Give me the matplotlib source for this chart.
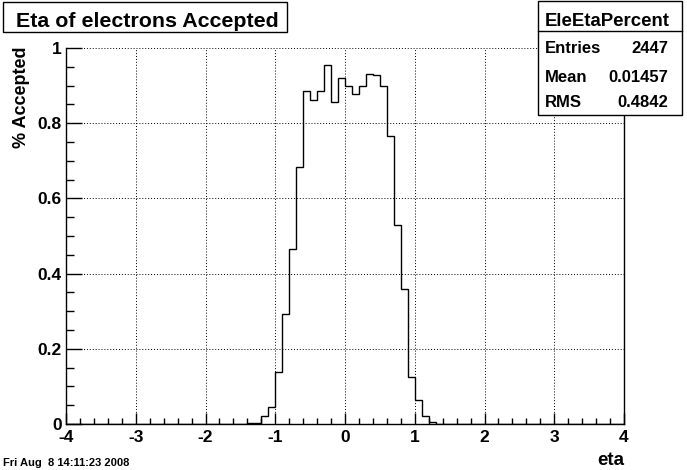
import matplotlib
matplotlib.use('Agg')
import matplotlib.pyplot as plt
from matplotlib.patches import Rectangle
from matplotlib.lines import Line2D
from matplotlib.ticker import MultipleLocator
import numpy as np

plt.rcParams['font.family'] = ['Liberation Sans', 'DejaVu Sans']
plt.rcParams['font.weight'] = 'bold'

# histogram: 80 bins of 0.1 in eta from -4 to 4
eta_lo, eta_hi, nbins = -4.0, 4.0, 80
first_filled_bin = 26   # bin starting at eta = -1.4
accepted = [0.003, 0.003, 0.020, 0.045, 0.137, 0.292, 0.465, 0.683, 0.885, 0.861,
            0.885, 0.954, 0.856, 0.919, 0.899, 0.878, 0.899, 0.930, 0.928, 0.899,
            0.766, 0.529, 0.359, 0.124, 0.064, 0.021, 0.006]

x_ticks = [-4, -3, -2, -1, 0, 1, 2, 3, 4]
y_ticks = [0, 0.2, 0.4, 0.6, 0.8, 1.0]
y_ticklabels = ['0', '0.2', '0.4', '0.6', '0.8', '1']

title = "Eta of electrons Accepted"
hist_name = "EleEtaPercent"
stats = [("Entries", "2447"), ("Mean", "0.01457"), ("RMS", "0.4842")]
date_str = "Fri Aug  8 14:11:23 2008"

edges = np.linspace(eta_lo, eta_hi, nbins + 1)
values = np.zeros(nbins)
values[first_filled_bin:first_filled_bin + len(accepted)] = accepted

W, H = 687, 470
def fx(px):
    return px / W
def fy(py):
    return 1 - py / H

fig = plt.figure(figsize=(W / 100, H / 100), dpi=100)
ax = fig.add_axes([fx(66), fy(424), 558 / W, 376 / H])

ax.grid(True, color='black', linestyle=(0, (1, 2)), linewidth=0.7)
ax.stairs(values, edges, color='black', linewidth=1.0, zorder=3)

ax.set_xlim(eta_lo, eta_hi)
ax.set_ylim(0, 1)
ax.set_xticks(x_ticks)
ax.set_xticklabels([str(t) for t in x_ticks])
ax.set_yticks(y_ticks)
ax.set_yticklabels(y_ticklabels)
ax.xaxis.set_minor_locator(MultipleLocator(0.2))
ax.yaxis.set_minor_locator(MultipleLocator(0.05))
ax.tick_params(axis='x', which='major', direction='in', length=8, width=1, labelsize=12.5, pad=4)
ax.tick_params(axis='x', which='minor', direction='in', length=4, width=1)
ax.tick_params(axis='y', which='major', direction='in', length=11.5, width=1, labelsize=12.5, pad=3)
ax.tick_params(axis='y', which='minor', direction='in', length=5.8, width=1)
ax.spines['top'].set_visible(False)
for s in ['left', 'bottom', 'right']:
    ax.spines[s].set_linewidth(1)

fig.text(fx(22), fy(47), "% Accepted", rotation=90, ha='center', va='top', fontsize=13)
fig.text(fx(624), fy(465), "eta", ha='right', va='baseline', fontsize=13.5)
fig.text(fx(3), fy(466), date_str, ha='left', va='baseline', fontsize=8)

# title box
fig.add_artist(Rectangle((fx(3), fy(32)), 284 / W, 30 / H, transform=fig.transFigure,
                         facecolor='white', edgecolor='black', linewidth=1, zorder=5))
fig.text(fx(147.5), fy(26.7), title, ha='center', va='baseline', fontsize=15.4, zorder=6)

# stats box
fig.add_artist(Rectangle((fx(538), fy(115)), 144 / W, 114.5 / H, transform=fig.transFigure,
                         facecolor='white', edgecolor='black', linewidth=1, zorder=5))
fig.add_artist(Line2D([fx(538), fx(682)], [fy(31), fy(31)], transform=fig.transFigure,
                      color='black', linewidth=1, zorder=6))
fig.text(fx(607), fy(25.7), hist_name, ha='center', va='baseline', fontsize=13.4, zorder=6)
for (name, val), base in zip(stats, [53.3, 81.7, 107.3]):
    fig.text(fx(545), fy(base), name, ha='left', va='baseline', fontsize=12, zorder=6)
    fig.text(fx(668), fy(base), val, ha='right', va='baseline', fontsize=12, zorder=6)

plt.savefig("out.png", dpi=100)
